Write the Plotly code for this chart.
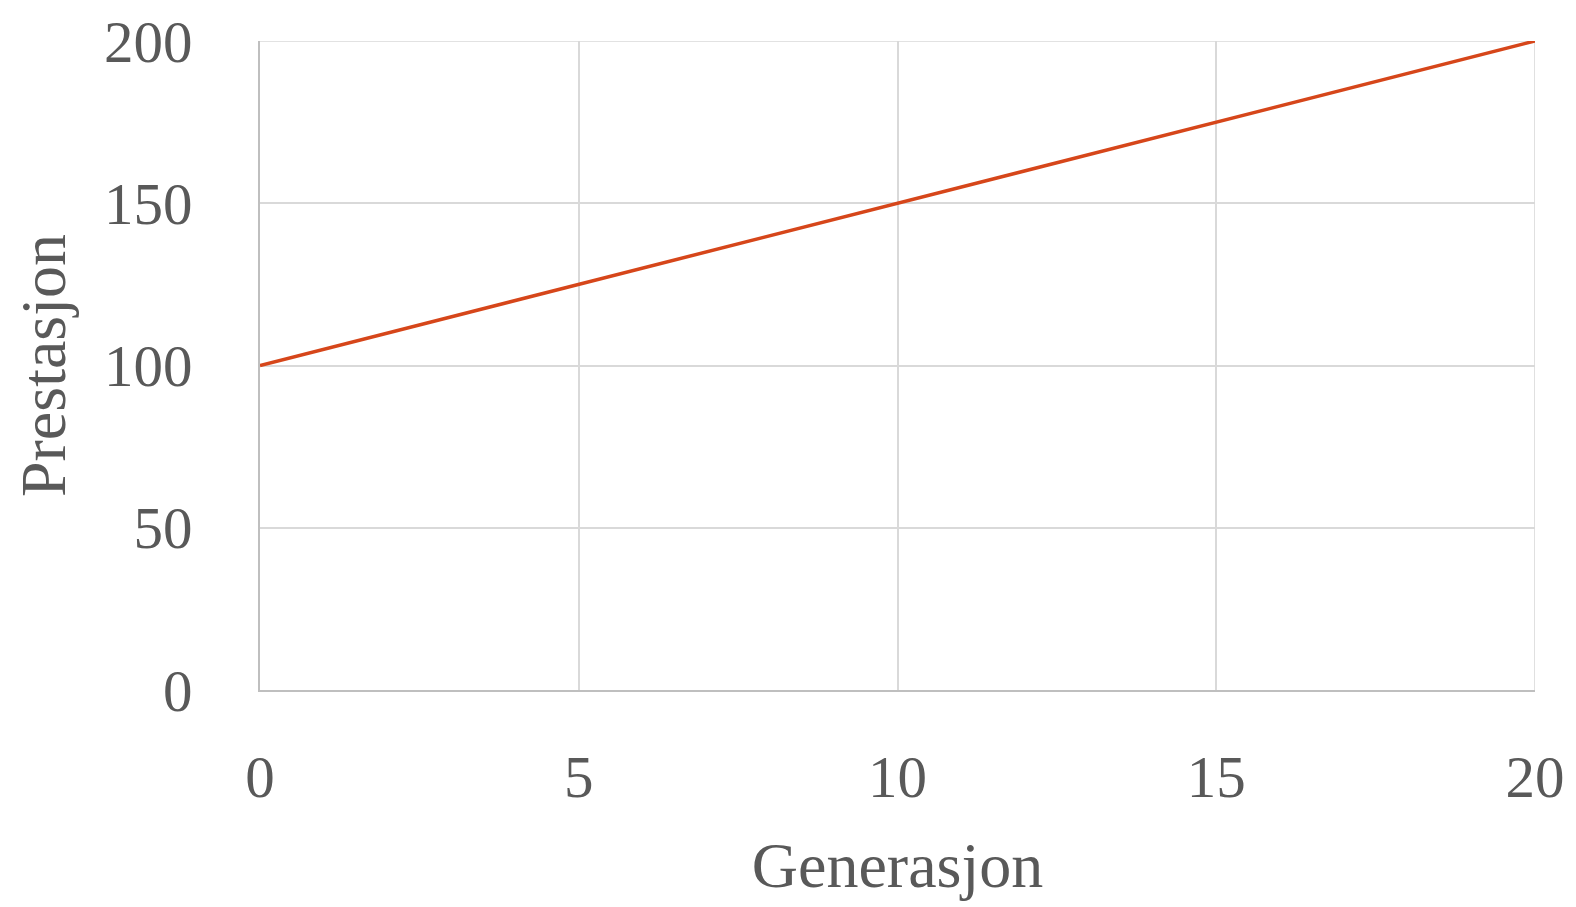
import plotly.graph_objects as go

generasjon = [0, 5, 10, 15, 20]
prestasjon = [100, 125, 150, 175, 200]

FONT = "Liberation Serif, DejaVu Serif, serif"
GRID = "#D9D9D9"
fig = go.Figure(go.Scatter(x=generasjon, y=prestasjon, mode="lines",
                           line=dict(color="#D6461A", width=3.5), showlegend=False))
fig.update_layout(
    width=1576, height=907,
    margin=dict(l=260, r=41, t=41, b=217, autoexpand=False),
    paper_bgcolor="white", plot_bgcolor="white",
    font=dict(family=FONT, size=59, color="#595959"),
)
fig.update_xaxes(range=[0, 20], dtick=5, showgrid=True, gridcolor=GRID, gridwidth=1.6,
                 showline=True, linecolor="#BFBFBF", linewidth=1.6, zeroline=False,
                 ticks="", ticklabelstandoff=34, automargin=False,
                 title=dict(text="Generasjon", standoff=34, font=dict(size=64)))
fig.update_yaxes(range=[0, 200], dtick=50, showgrid=True, gridcolor=GRID, gridwidth=1.6,
                 showline=True, linecolor="#BFBFBF", linewidth=1.6, zeroline=False,
                 ticks="", ticklabelstandoff=54, automargin=False,
                 title=dict(text="Prestasjon", standoff=18, font=dict(size=64)))
fig.add_shape(type="line", xref="x", yref="paper", x0=20, x1=20, y0=0, y1=1,
              line=dict(color=GRID, width=1.6), layer="below")
fig.add_shape(type="line", xref="paper", yref="y", x0=0, x1=1, y0=200, y1=200,
              line=dict(color=GRID, width=1.6), layer="below")
fig.write_html("out.html")
